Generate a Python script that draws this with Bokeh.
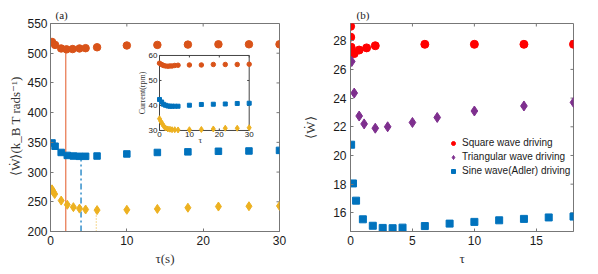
import math
from bokeh.plotting import figure
from bokeh.layouts import row
from bokeh.models import Range1d, FixedTicker, Legend, LegendItem
from bokeh.core.properties import value
from bokeh.embed import file_html
from bokeh.resources import INLINE

# ---------------- data: panel (a) main ----------------
tau_sq_a = [0.2, 0.6, 1.4, 2.1, 2.9, 3.8, 4.6, 6.1, 10, 14, 18, 22, 26, 30]
w_sq_a = [519, 514, 508, 506.5, 507, 508, 508.5, 510, 513, 514, 514.5, 515, 515, 515]
tau_sin_a = [0.2, 0.6, 1.4, 2.2, 3.0, 3.8, 4.6, 6.1, 10, 14, 18, 22, 26, 30]
w_sin_a = [349, 343.5, 333, 328, 327, 326.5, 326.5, 327, 330.5, 333, 334, 335, 335.5, 336.5]
tau_tri_a = [0.2, 0.35, 0.55, 1.4, 2.2, 3.0, 3.8, 4.6, 6.1, 10, 14, 18, 22, 26, 30]
w_tri_a = [271, 267, 263, 252, 245, 241, 238.5, 237, 236, 236.5, 238, 240, 242, 242.5, 243]
tau_opt = [2, 4, 6]
w_opt = [506.5, 326.5, 236]
xticks_a = [0, 10, 20, 30]
yticks_a = [200, 250, 300, 350, 400, 450, 500, 550]

# ---------------- data: panel (a) inset ----------------
tau_in = [0, 0.7, 1.3, 2, 2.8, 3.5, 4.2, 5.1, 6.2, 10, 14, 18, 22, 26, 30]
cur_sq = [56.9, 56.4, 56.0, 55.8, 55.7, 55.8, 55.8, 56.0, 56.1, 56.2, 56.2, 56.4, 56.4, 56.4, 56.5]
cur_sin = [42.4, 41.4, 40.5, 40.1, 39.8, 39.7, 39.7, 39.7, 39.7, 40.1, 40.4, 40.5, 40.6, 40.8, 40.9]
tau_in_tri = [0, 0.45, 0.9, 1.45, 2, 2.8, 3.5, 4.2, 5.1, 6.2, 10, 14, 18, 22, 26, 30]
cur_tri = [34.7, 33.6, 32.7, 31.7, 31.0, 30.6, 30.5, 30.3, 30.3, 30.2, 30.3, 30.4, 30.6, 30.9, 30.9, 31.1]
xticks_in = [0, 10, 20, 30]
yticks_in = [30, 40, 50, 60]

# ---------------- data: panel (b) ----------------
tau_sq_b = [0.01, 0.02, 0.05, 0.3, 0.7, 1.3, 2, 6, 10, 14, 18]
w_sq_b = [29.0, 28.25, 27.55, 27.1, 27.35, 27.5, 27.65, 27.75, 27.75, 27.75, 27.75]
tau_tri_b = [0.1, 0.3, 0.7, 1.1, 2, 3, 5, 7, 10, 14, 18]
w_tri_b = [26.55, 24.35, 22.75, 22.2, 21.9, 22.0, 22.3, 22.65, 23.1, 23.45, 23.7]
tau_sin_b = [0.05, 0.2, 0.45, 1, 1.8, 2.6, 3.4, 4.2, 6, 8, 10, 12, 14, 16, 18]
w_sin_b = [20.75, 18.05, 16.85, 15.55, 15.1, 14.95, 14.93, 14.97, 15.08, 15.25, 15.37, 15.48, 15.58, 15.68, 15.74]
xticks_b = [0, 5, 10, 15]
yticks_b = [16, 18, 20, 22, 24, 26, 28]
legend_labels = ["Square wave driving", "Triangular wave driving", "Sine wave(Adler) driving"]

ORANGE = "#D95319"
BLUE = "#0072BD"
YELLOW = "#EDB120"
RED = "#FF0000"
PURPLE = "#7E2F8E"
AX = "#777777"
TXT = "#1a1a1a"
SANS = "Liberation Sans"
SERIF = "Liberation Serif"


def style(p, xt, yt, tick_size="12px", label_size="13px", tick_len=3, axcol=AX):
    p.xgrid.visible = False
    p.ygrid.visible = False
    p.outline_line_color = axcol
    p.outline_line_alpha = 1
    p.background_fill_color = "white"
    p.xaxis.ticker = FixedTicker(ticks=xt)
    p.yaxis.ticker = FixedTicker(ticks=yt)
    for ax in (p.xaxis[0], p.yaxis[0]):
        ax.axis_line_color = axcol
        ax.major_tick_line_color = axcol
        ax.major_tick_in = tick_len
        ax.major_tick_out = 0
        ax.minor_tick_line_color = None
        ax.major_label_text_font = SANS
        ax.major_label_text_font_size = tick_size
        ax.major_label_text_color = TXT
        ax.axis_label_text_font = SERIF
        ax.axis_label_text_font_style = "normal"
        ax.axis_label_text_font_size = label_size
        ax.axis_label_text_color = "#333333"


def mirror_ticks(p, xt, yt, length=3, color=AX):
    # ticks on the top and right edges of the box (box-style axes)
    top = p.y_range.end
    right = p.x_range.end
    p.ray(x=xt, y=[top] * len(xt), length=length, angle=-math.pi / 2,
          length_units="screen", line_color=color)
    p.ray(x=[right] * len(yt), y=yt, length=length, angle=math.pi,
          length_units="screen", line_color=color)


# ---------------- panel (a) ----------------
pa = figure(width=300, height=268, output_backend="svg", toolbar_location=None,
            x_range=Range1d(0, 30), y_range=Range1d(200, 550),
            min_border_left=50, min_border_right=21, min_border_top=23, min_border_bottom=37)
style(pa, xticks_a, yticks_a)
mirror_ticks(pa, xticks_a, yticks_a)
pa.xaxis.axis_label = "τ(s)"
pa.yaxis.axis_label = "⟨Ẇ⟩(k_B T rads⁻¹)"
pa.xaxis.major_label_standoff = 4
pa.yaxis.major_label_standoff = 3
pa.xaxis.axis_label_standoff = 3
pa.yaxis.axis_label_standoff = 1
pa.title.text = "(a)"
pa.title.text_font = SERIF
pa.title.text_font_size = "11px"
pa.title.text_font_style = "normal"
pa.title.align = "left"
pa.title.offset = 5
pa.title.standoff = 5
pa.title.text_color = TXT

base = pa.y_range.start
pa.segment(x0=tau_opt[0:1], y0=[base], x1=tau_opt[0:1], y1=w_opt[0:1],
           line_color="#E8744A", line_width=1.2)
pa.segment(x0=tau_opt[1:2], y0=[base], x1=tau_opt[1:2], y1=w_opt[1:2],
           line_color=BLUE, line_width=1.2, line_dash="6 3 2 3")
pa.segment(x0=tau_opt[2:3], y0=[base], x1=tau_opt[2:3], y1=w_opt[2:3],
           line_color=YELLOW, line_width=1.2, line_dash="1 2", line_alpha=0.8)

pa.scatter(tau_sq_a, w_sq_a, marker="circle", size=7.5, color=ORANGE)
pa.scatter(tau_sin_a, w_sin_a, marker="square", size=6.5, color=BLUE)
pa.scatter(tau_tri_a, w_tri_a, marker="diamond", size=9, color=YELLOW)

# ---------------- inset (sub-coordinates inside panel a) ----------------
xr_in = Range1d(0, 30)
yr_in = Range1d(30, 60)
sub = pa.subplot(x_source=xr_in, y_source=yr_in,
                 x_target=Range1d(14.28, 26.03), y_target=Range1d(370, 496.2))
INAX = "#444444"
sub.quad(left=[xr_in.start], right=[xr_in.end], bottom=[yr_in.start], top=[yr_in.end],
         fill_color="white", line_color=INAX, line_width=1)
n_x, n_y = len(xticks_in), len(yticks_in)
sub.ray(x=xticks_in, y=[yr_in.start] * n_x, length=2, angle=math.pi / 2,
        length_units="screen", line_color=INAX)
sub.ray(x=xticks_in, y=[yr_in.end] * n_x, length=2, angle=-math.pi / 2,
        length_units="screen", line_color=INAX)
sub.ray(x=[xr_in.start] * n_y, y=yticks_in, length=2, angle=0,
        length_units="screen", line_color=INAX)
sub.ray(x=[xr_in.end] * n_y, y=yticks_in, length=2, angle=math.pi,
        length_units="screen", line_color=INAX)
sub.text(x=xticks_in, y=[yr_in.start] * n_x, text=[str(t) for t in xticks_in],
         y_offset=2, text_align="center", text_baseline="top",
         text_font=value(SANS), text_font_size="8px", text_color=TXT)
sub.text(x=[xr_in.start] * n_y, y=yticks_in, text=[str(t) for t in yticks_in],
         x_offset=-2, text_align="right", text_baseline="middle",
         text_font=value(SANS), text_font_size="8px", text_color=TXT)
sub.text(x=[xr_in.start], y=[(yr_in.start + yr_in.end) / 2], text=["Current(rpm)"],
         x_offset=-17, angle=math.pi / 2, text_align="center", text_baseline="middle",
         text_font=value(SERIF), text_font_size="8px", text_color="#333333")
sub.text(x=[(xr_in.start + xr_in.end) / 2], y=[yr_in.start], text=["τ"],
         x_offset=-4, y_offset=5, text_align="center", text_baseline="top",
         text_font=value(SERIF), text_font_size="9px", text_color="#333333")
sub.scatter(tau_in, cur_sq, marker="circle", size=4.5, color=ORANGE)
sub.scatter(tau_in, cur_sin, marker="square", size=4, color=BLUE)
sub.scatter(tau_in_tri, cur_tri, marker="diamond", size=6, color=YELLOW)

# ---------------- panel (b) ----------------
pb = figure(width=298, height=268, output_backend="svg", toolbar_location=None,
            x_range=Range1d(0, 18), y_range=Range1d(14.7, 29.2),
            min_border_left=48, min_border_right=25, min_border_top=23, min_border_bottom=36)
style(pb, xticks_b, yticks_b)
mirror_ticks(pb, xticks_b, yticks_b)
pb.xaxis.axis_label = "τ"
pb.yaxis.axis_label = "⟨Ẇ⟩"
pb.xaxis.major_label_standoff = 4
pb.yaxis.major_label_standoff = 4
pb.xaxis.axis_label_standoff = 3
pb.yaxis.axis_label_standoff = 12
pb.title.text = "(b)"
pb.title.text_font = SERIF
pb.title.text_font_size = "11px"
pb.title.text_font_style = "normal"
pb.title.align = "left"
pb.title.offset = 6
pb.title.standoff = 5
pb.title.text_color = TXT

r1 = pb.scatter(tau_sq_b, w_sq_b, marker="circle", size=8, color=RED)
r2 = pb.scatter(tau_tri_b, w_tri_b, marker="diamond", size=10, color=PURPLE)
r3 = pb.scatter(tau_sin_b, w_sin_b, marker="square", size=7, color=BLUE)

leg = Legend(items=[LegendItem(label=legend_labels[0], renderers=[r1]),
                    LegendItem(label=legend_labels[1], renderers=[r2]),
                    LegendItem(label=legend_labels[2], renderers=[r3])],
             location=(98, 54), padding=0, margin=0, spacing=1,
             label_height=13, glyph_height=10, glyph_width=10, label_standoff=4,
             label_text_font=SANS, label_text_font_size="10px", label_text_color=TXT,
             background_fill_alpha=0, border_line_color=None)
pb.add_layout(leg)

layout = row(pa, pb)

open("out.html", "w").write(file_html(layout, INLINE))
